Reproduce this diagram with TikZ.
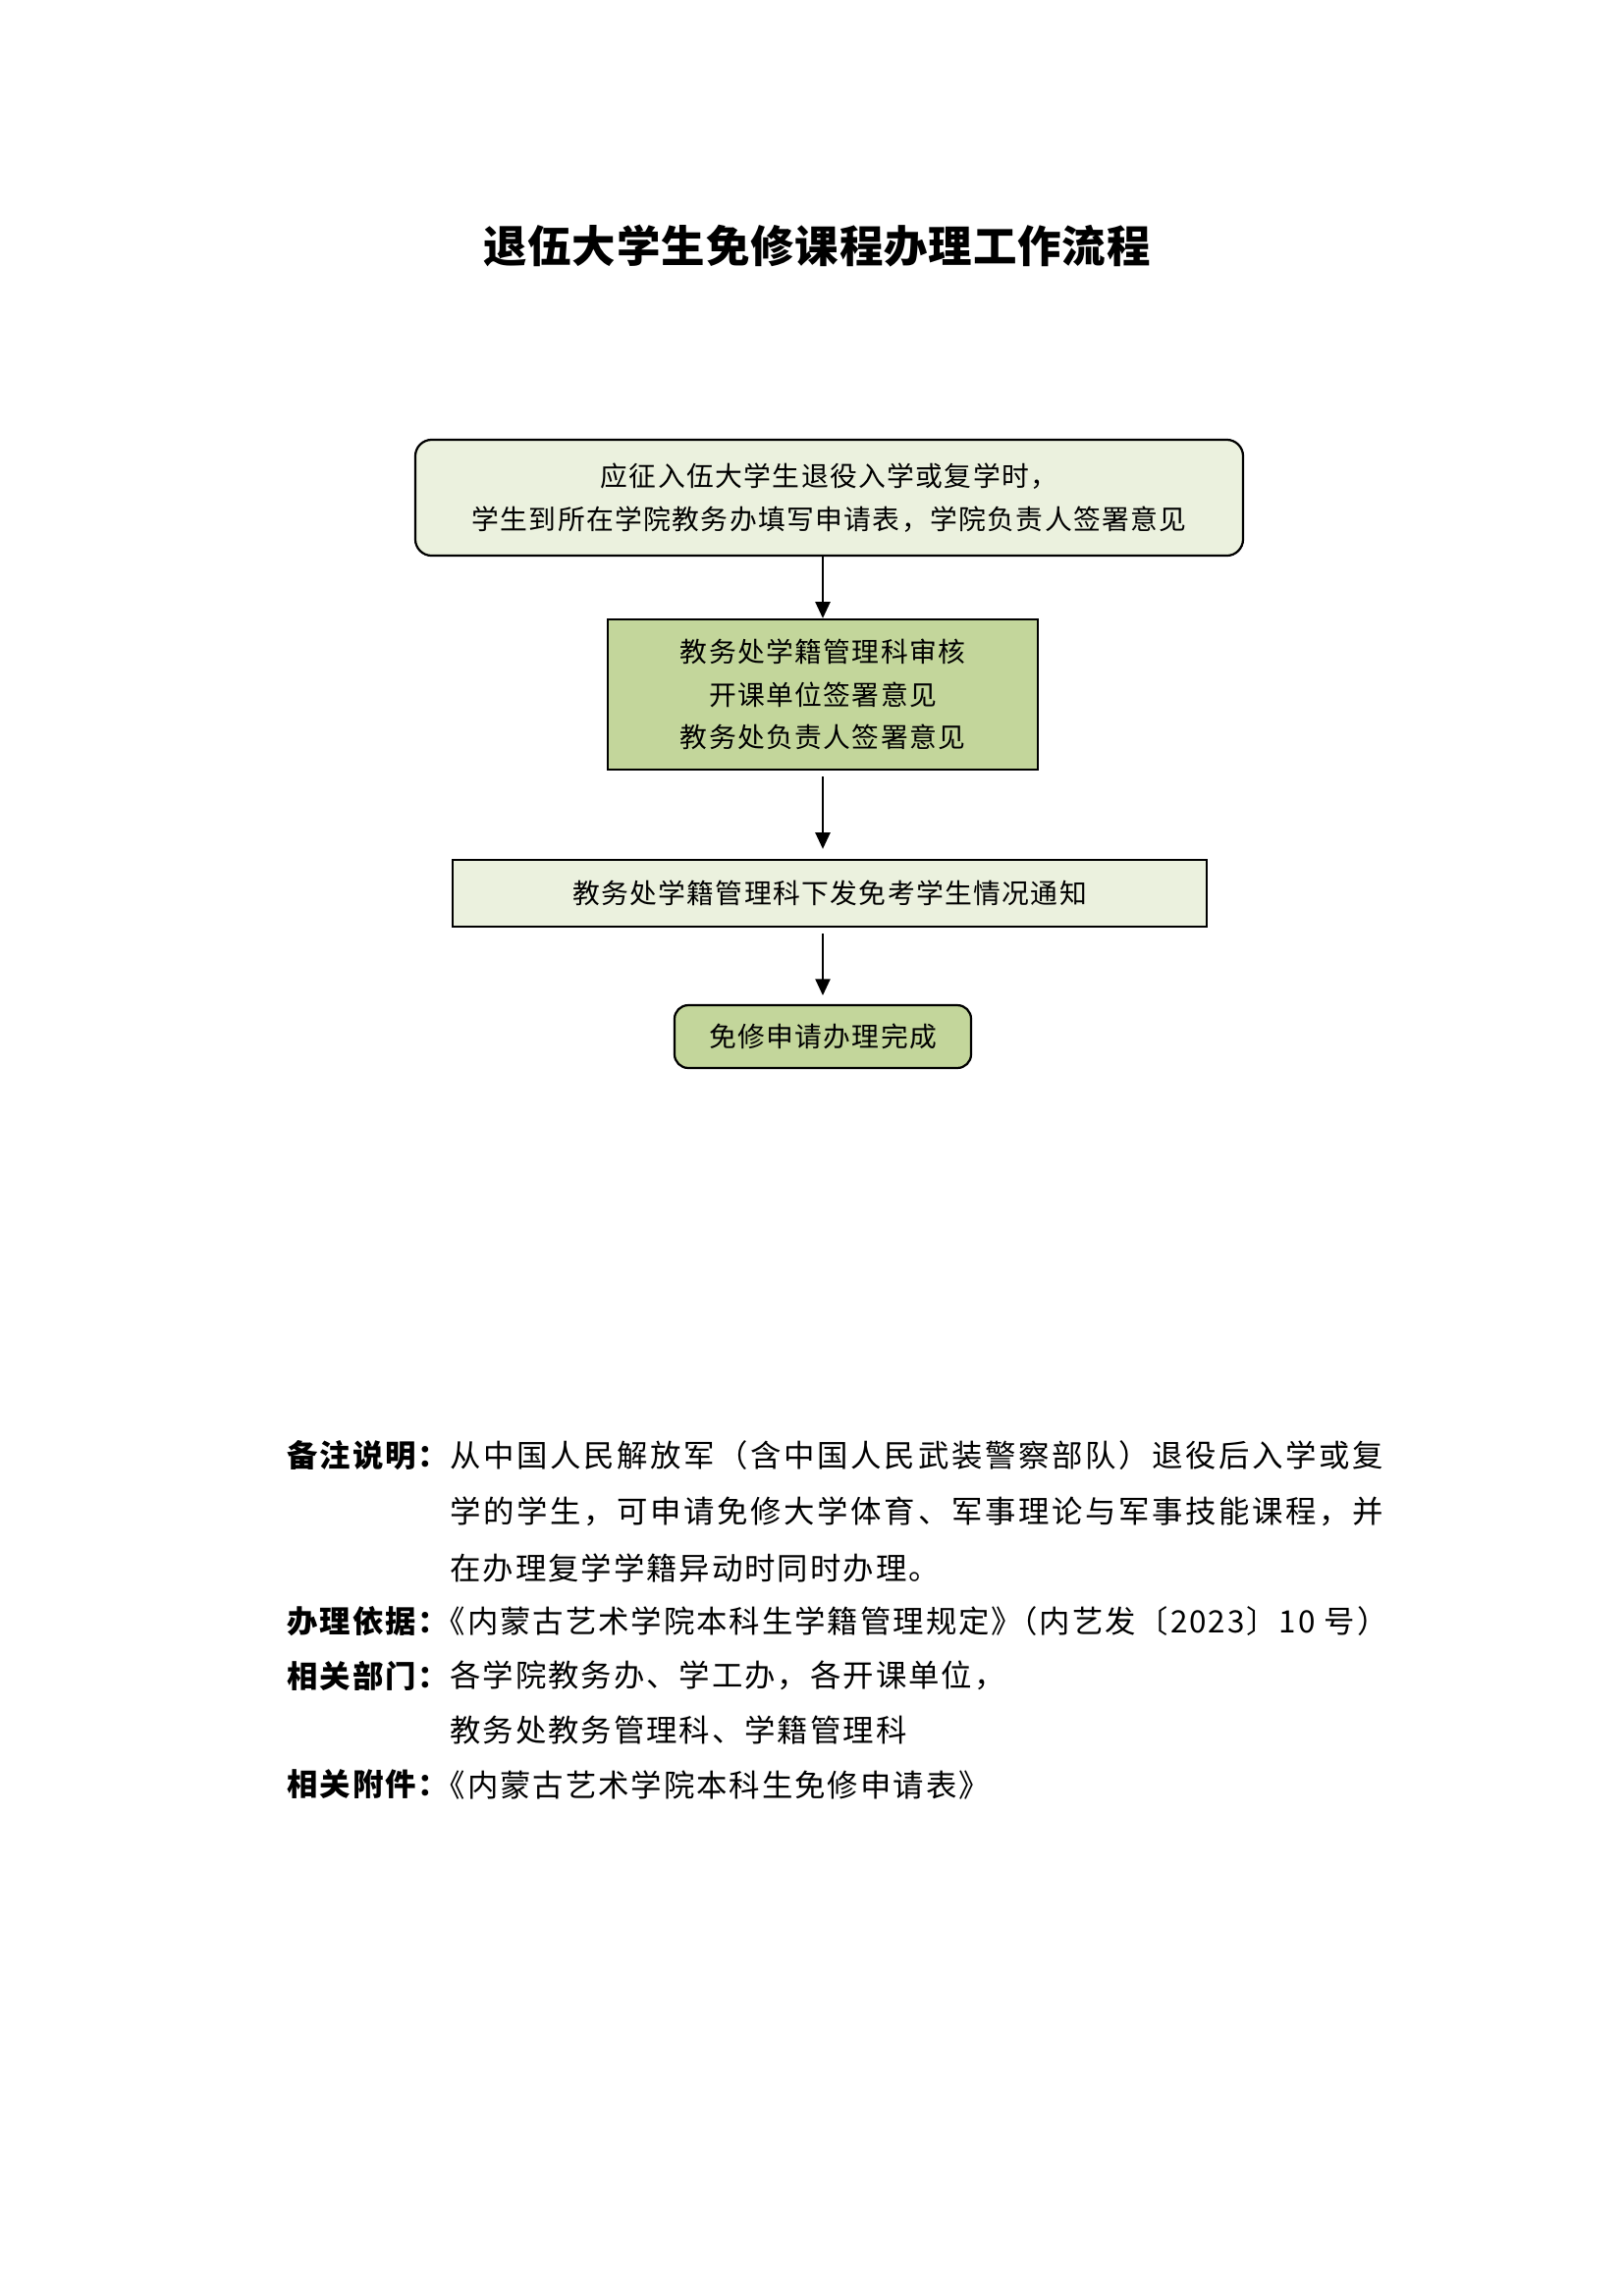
\documentclass[tikz,border=0pt]{standalone}
\usepackage{fontspec}
\usetikzlibrary{arrows.meta}
\newfontfamily\titlefont{Noto Sans CJK SC}[LetterSpace=2]
\newfontfamily\boxfont{Noto Sans CJK SC}[LetterSpace=5]
\newfontfamily\notefont{Noto Sans CJK SC}[LetterSpace=6.2]
\newfontfamily\notefontj{Noto Sans CJK SC}[LetterSpace=8.4]
\newfontfamily\labelfont{Noto Sans CJK SC}[LetterSpace=6.2]
\definecolor{lightfill}{HTML}{EBF1DE}
\definecolor{greenfill}{HTML}{C3D69B}
\tikzset{
  x=0.3599pt, y=-0.3599pt,
  flowbox/.style={draw=black, line width=0.8pt, inner sep=0pt, align=center,
    font=\fontsize{10}{15.65}\selectfont\boxfont},
  lightbox/.style={flowbox, fill=lightfill},
  greenbox/.style={flowbox, fill=greenfill},
  flowarrow/.style={draw=black, line width=0.75pt, -{Triangle[length=6pt,width=5.4pt]}},
  notelabel/.style={anchor=west, inner sep=0pt, font=\fontsize{11.3}{13}\selectfont\labelfont\bfseries},
  notetext/.style={anchor=west, inner sep=0pt, font=\fontsize{11.3}{13}\selectfont\notefont},
  notetextj/.style={anchor=west, inner sep=0pt, font=\fontsize{11.3}{13}\selectfont\notefontj}
}
\begin{document}
\begin{tikzpicture}
\useasboundingbox (0,0) rectangle (1654,2339);
\fill[white] (0,0) rectangle (1654,2339);

\node[inner sep=0pt, font=\fontsize{16}{20}\selectfont\titlefont\bfseries] (title) at (832,251) {退伍大学生免修课程办理工作流程};

\node[lightbox, rounded corners=6pt, minimum width=303.4pt, minimum height=42.5pt] (box1) at (844.5,507)
  {应征入伍大学生退役入学或复学时，\\学生到所在学院教务办填写申请表，学院负责人签署意见};
\node[greenbox, minimum width=157.6pt, minimum height=55.1pt] (box2) at (838,707.5)
  {教务处学籍管理科审核\\开课单位签署意见\\教务处负责人签署意见};
\node[lightbox, minimum width=276.4pt, minimum height=24.5pt] (box3) at (845,910)
  {教务处学籍管理科下发免考学生情况通知};
\node[greenbox, rounded corners=5pt, minimum width=108.7pt, minimum height=23pt] (box4) at (838,1056)
  {免修申请办理完成};

\draw[flowarrow] (box1.south -| box2.north) -- (box2.north);
\draw[flowarrow, shorten <=2.2pt, shorten >=3.6pt] (box2.south) -- (box2.south |- box3.north);
\draw[flowarrow, shorten <=2.2pt, shorten >=3.2pt] (box3.south -| box4.north) -- (box4.north);

\node[notelabel] (l1) at (292,1483) {备注说明：};
\node[notetextj] (t1a) at (458,1483) {从中国人民解放军（含中国人民武装警察部队）退役后入学或复};
\node[notetextj] (t1b) at (458,1540) {学的学生，可申请免修大学体育、军事理论与军事技能课程，并};
\node[notetext] (t1c) at (458,1597) {在办理复学学籍异动时同时办理。};
\node[notelabel] (l2) at (292,1652) {办理依据：};
\node[notetext] (t2a) at (458,1652) {\kern-0.5em《内蒙古艺术学院本科生学籍管理规定》\kern-0.5em（内艺发〔2023〕10 号）};
\node[notelabel] (l3) at (292,1707) {相关部门：};
\node[notetext] (t3a) at (458,1707) {各学院教务办、学工办，各开课单位，};
\node[notetext] (t3b) at (458,1762) {教务处教务管理科、学籍管理科};
\node[notelabel] (l4) at (292,1818) {相关附件：};
\node[notetext] (t4a) at (458,1818) {\kern-0.5em《内蒙古艺术学院本科生免修申请表》};
\end{tikzpicture}
\end{document}
